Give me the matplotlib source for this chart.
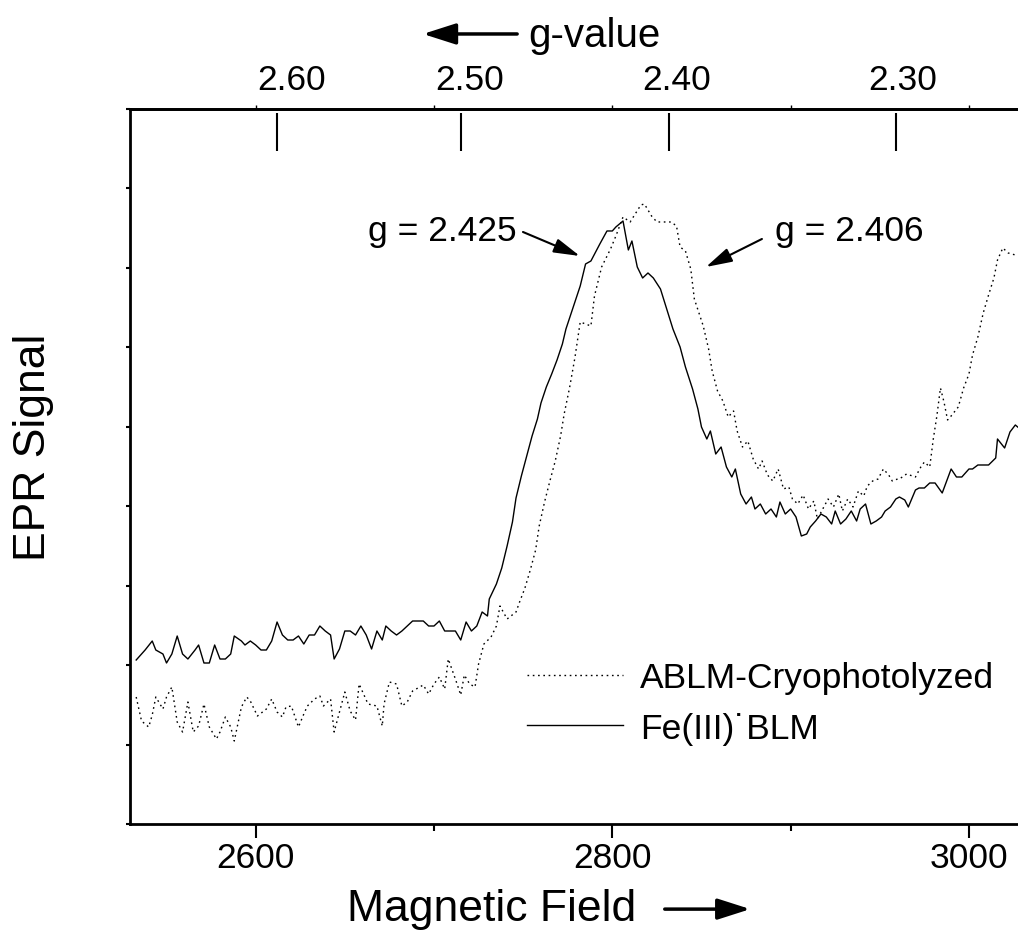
import numpy as np
import matplotlib
matplotlib.use("Agg")
import matplotlib.pyplot as plt

plt.rcParams['font.family'] = ['Liberation Sans', 'DejaVu Sans']

# Fe(III).BLM  (solid trace), field in G, signal in arbitrary units
fe_field = [2533, 2538, 2542, 2544, 2548, 2550, 2553, 2556, 2559, 2562, 2566, 2568, 2571, 2574,
            2577, 2580, 2583, 2586, 2588, 2592, 2594, 2597, 2600, 2603, 2606, 2609, 2612, 2615,
            2618, 2621, 2624, 2627, 2630, 2633, 2636, 2639, 2642, 2644, 2647, 2650, 2653, 2656,
            2659, 2662, 2665, 2668, 2671, 2673, 2676, 2679, 2682, 2685, 2688, 2694, 2697, 2700,
            2703, 2706, 2712, 2715, 2718, 2721, 2724, 2727, 2730, 2731, 2735, 2738, 2741, 2744,
            2746, 2749, 2752, 2755, 2758, 2760, 2763, 2766, 2769, 2772, 2774, 2782, 2785, 2788,
            2793, 2797, 2800, 2802, 2806, 2809, 2811, 2814, 2817, 2820, 2823, 2827, 2830, 2834,
            2838, 2841, 2845, 2848, 2850, 2853, 2855, 2858, 2861, 2864, 2867, 2869, 2872, 2875,
            2878, 2880, 2883, 2886, 2889, 2892, 2894, 2897, 2900, 2903, 2906, 2909, 2911, 2914,
            2917, 2920, 2923, 2925, 2928, 2931, 2934, 2937, 2939, 2942, 2945, 2948, 2951, 2953,
            2956, 2959, 2961, 2964, 2966, 2970, 2972, 2975, 2978, 2981, 2985, 2990, 2993, 2996,
            3000, 3002, 3005, 3011, 3015, 3016, 3020, 3023, 3026, 3028]
fe_signal = [164, 174, 183, 174, 170, 161, 170, 188, 170, 165, 174, 179, 161, 161,
             179, 165, 165, 170, 188, 183, 179, 183, 179, 174, 174, 183, 202, 189,
             184, 184, 188, 180, 189, 189, 198, 193, 189, 165, 175, 193, 193, 189,
             198, 189, 175, 193, 184, 198, 193, 189, 193, 198, 203, 203, 198, 198,
             203, 193, 193, 184, 202, 193, 198, 212, 208, 225, 240, 256, 278, 302,
             326, 348, 368, 388, 405, 421, 437, 450, 464, 480, 495, 538, 560, 563,
             580, 593, 593, 597, 603, 574, 583, 557, 546, 551, 546, 535, 518, 495,
             477, 457, 435, 415, 397, 385, 393, 370, 377, 357, 347, 355, 330, 320,
             327, 315, 320, 310, 315, 307, 322, 310, 315, 307, 288, 290, 297, 303,
             310, 307, 300, 313, 300, 305, 313, 303, 315, 320, 300, 303, 307, 313,
             317, 325, 327, 324, 317, 334, 336, 336, 341, 341, 331, 355, 347, 347,
             355, 355, 359, 359, 366, 385, 376, 392, 399, 396]

# ABLM-Cryophotolyzed (dotted trace)
ablm_field = [2533, 2536, 2540, 2542, 2544, 2548, 2550, 2553, 2556, 2559, 2562, 2565, 2568, 2571,
              2574, 2578, 2580, 2583, 2586, 2588, 2592, 2595, 2597, 2601, 2606, 2609, 2612, 2615,
              2617, 2620, 2624, 2627, 2629, 2633, 2636, 2638, 2642, 2644, 2647, 2650, 2653, 2656,
              2658, 2663, 2668, 2671, 2672, 2675, 2679, 2682, 2685, 2688, 2690, 2694, 2697, 2700,
              2703, 2706, 2708, 2712, 2715, 2717, 2720, 2723, 2725, 2728, 2732, 2735, 2737, 2741,
              2746, 2748, 2751, 2754, 2757, 2759, 2762, 2765, 2768, 2771, 2773, 2776, 2779, 2782,
              2788, 2790, 2794, 2799, 2802, 2806, 2810, 2816, 2818, 2822, 2825, 2833, 2836, 2838,
              2841, 2844, 2846, 2851, 2854, 2856, 2859, 2862, 2865, 2868, 2870, 2873, 2876, 2879,
              2882, 2884, 2887, 2890, 2893, 2896, 2899, 2901, 2904, 2907, 2910, 2913, 2915, 2918,
              2921, 2924, 2927, 2929, 2932, 2935, 2938, 2941, 2943, 2946, 2949, 2952, 2955, 2957,
              2960, 2961, 2965, 2970, 2973, 2975, 2978, 2980, 2982, 2984, 2986, 2988, 2990, 2994,
              2997, 3000, 3002, 3005, 3008, 3011, 3014, 3016, 3019, 3022, 3026]
ablm_signal = [127, 103, 97, 109, 127, 115, 127, 137, 102, 92, 122, 92, 98, 120,
               97, 85, 92, 107, 97, 83, 117, 127, 123, 108, 115, 125, 112, 107,
               117, 118, 97, 110, 118, 125, 128, 118, 125, 92, 112, 132, 113, 104,
               140, 120, 118, 98, 120, 142, 140, 118, 122, 133, 135, 139, 130, 140,
               147, 135, 165, 145, 129, 149, 140, 137, 160, 180, 187, 198, 218, 205,
               212, 222, 236, 254, 274, 298, 322, 343, 363, 388, 410, 436, 466, 502,
               498, 528, 557, 575, 588, 607, 602, 619, 620, 608, 602, 602, 598, 577,
               573, 555, 525, 498, 475, 453, 433, 423, 407, 413, 393, 377, 383, 365,
               355, 363, 349, 343, 355, 335, 337, 325, 320, 329, 315, 323, 305, 315,
               325, 317, 330, 313, 325, 317, 333, 328, 338, 343, 345, 355, 349, 343,
               345, 345, 350, 347, 357, 362, 357, 385, 408, 436, 422, 404, 408, 417,
               436, 450, 469, 487, 511, 529, 546, 564, 576, 571, 569]

g_labels = ['2.60', '2.50', '2.40', '2.30']
g_tick_field = [2612, 2715, 2832, 2959]
g_label_field = [2620, 2720, 2836, 2963]

fig = plt.figure(figsize=(10.18, 9.53), dpi=100)
ax = fig.add_axes([0.128, 0.1343, 0.872, 0.7503])

ax.plot(ablm_field, ablm_signal, color='black', lw=1.0, ls=(0, (1.2, 2.6)),
        label='ABLM-Cryophotolyzed')
ax.plot(fe_field, fe_signal, color='black', lw=1.0, label='Fe(III)\u02d9BLM')

ax.set_xlim(2529.7, 3027.5)
ax.set_ylim(0, 715)

for s in ['left', 'bottom', 'top']:
    ax.spines[s].set_linewidth(2)
ax.spines['right'].set_visible(False)

ax.set_xticks([2600, 2800, 3000])
ax.set_xticks([2700, 2900], minor=True)
ax.tick_params(axis='x', which='major', direction='out', length=10, width=1.5,
               labelsize=25.5, pad=2)
ax.tick_params(axis='x', which='minor', direction='out', length=5, width=1.5)
ax.set_yticks(np.linspace(0, 715, 10))
ax.tick_params(axis='y', direction='out', length=3, width=1.5, labelleft=False)

sec = ax.secondary_xaxis('top')
sec.set_xticks([2600, 2700, 2800, 2900, 3000])
sec.tick_params(direction='out', length=3, width=1, labeltop=False)
sec.spines['top'].set_linewidth(2)

# g-value scale drawn inside the frame
ax.vlines(g_tick_field, 0.941, 0.9944, transform=ax.get_xaxis_transform(),
          color='black', lw=1.5)
for f, lab in zip(g_label_field, g_labels):
    ax.text(f, 1.041, lab, transform=ax.get_xaxis_transform(), ha='center', va='center',
            fontsize=25.5)

arr = dict(arrowstyle='-|>,head_length=0.8,head_width=0.22', color='black', lw=1.5,
           shrinkA=0, shrinkB=0, mutation_scale=20)
ax.text(2746.5, 593, 'g = 2.425', ha='right', va='center', fontsize=25.5)
ax.annotate('', xy=(2781.8, 568), xytext=(2749.9, 592), arrowprops=arr)
ax.annotate('', xy=(2852.5, 557), xytext=(2883.9, 585), arrowprops=arr)
ax.text(2891.2, 593, 'g = 2.406', ha='left', va='center', fontsize=25.5)

ax.legend(loc='upper left', bbox_to_anchor=(0.447, 0.228), frameon=False, fontsize=25.5,
          handlelength=2.7, handletextpad=0.5, labelspacing=0.5, borderpad=0,
          borderaxespad=0)

big = dict(arrowstyle='-|>,head_length=1.0,head_width=0.32', color='black', lw=2.5,
           shrinkA=0, shrinkB=0, mutation_scale=20)
fig.text(0.5187, 0.9507, 'g-value', ha='left', va='baseline', fontsize=29)
ax.annotate('', xy=(0.4155, 0.9633), xytext=(0.508, 0.9633), xycoords='figure fraction',
            textcoords='figure fraction', arrowprops=big)

fig.text(0.341, 0.034, 'Magnetic Field', ha='left', va='baseline', fontsize=32)
ax.annotate('', xy=(0.737, 0.045), xytext=(0.653, 0.045), xycoords='figure fraction',
            textcoords='figure fraction', arrowprops=big)

fig.text(0.033, 0.531, 'EPR Signal', rotation=90, ha='center', va='center', fontsize=32)

fig.savefig('out.png', dpi=100)
